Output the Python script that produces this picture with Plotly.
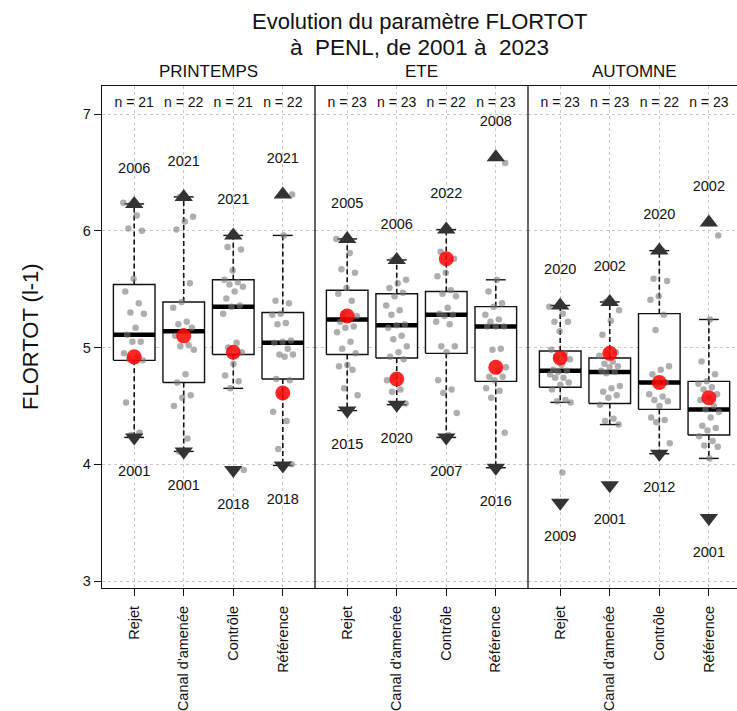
import plotly.graph_objects as go

# ---- categories -------------------------------------------------------------
seasons = ["PRINTEMPS", "ETE", "AUTOMNE"]
stations = ["Rejet", "Canal d'amenée", "Contrôle", "Référence"]
y_ticks = [3, 4, 5, 6, 7]

# ---- counts per season / station ---------------------------------------------
n_printemps = [21, 22, 21, 22]
n_ete = [23, 23, 22, 23]
n_automne = [23, 23, 22, 23]

# ---- box statistics (q1, median, q3, whisker ends, mean) ----------------------
q1_printemps = [4.89, 4.70, 4.94, 4.73]
med_printemps = [5.11, 5.14, 5.35, 5.04]
q3_printemps = [5.54, 5.39, 5.58, 5.30]
lo_printemps = [4.23, 4.11, 4.65, 3.99]
hi_printemps = [6.23, 6.29, 5.96, 5.96]
mean_printemps = [4.92, 5.10, 4.96, 4.61]

q1_ete = [4.94, 4.91, 4.95, 4.71]
med_ete = [5.24, 5.19, 5.28, 5.18]
q3_ete = [5.49, 5.46, 5.48, 5.35]
lo_ete = [4.46, 4.51, 4.23, 3.97]
hi_ete = [5.93, 5.75, 6.01, 5.58]
mean_ete = [5.27, 4.73, 5.76, 4.83]

q1_automne = [4.66, 4.52, 4.47, 4.25]
med_automne = [4.80, 4.79, 4.70, 4.47]
q3_automne = [4.97, 4.91, 5.29, 4.71]
lo_automne = [4.53, 4.34, 4.09, 4.05]
hi_automne = [5.36, 5.39, 5.83, 5.24]
mean_automne = [4.91, 4.95, 4.70, 4.57]

# ---- extremes and their years ------------------------------------------------
max_printemps = [6.23, 6.29, 5.96, 6.31]
min_printemps = [4.23, 4.11, 3.95, 3.99]
year_max_printemps = ["2006", "2021", "2021", "2021"]
year_min_printemps = ["2001", "2001", "2018", "2018"]

max_ete = [5.93, 5.75, 6.01, 6.63]
min_ete = [4.46, 4.51, 4.23, 3.97]
year_max_ete = ["2005", "2006", "2022", "2008"]
year_min_ete = ["2015", "2020", "2007", "2016"]

max_automne = [5.36, 5.39, 5.83, 6.07]
min_automne = [3.67, 3.82, 4.09, 3.54]
year_max_automne = ["2020", "2002", "2020", "2002"]
year_min_automne = ["2009", "2001", "2012", "2001"]

# ---- individual observations ------------------------------------------------
printemps_rejet = [6.24, 6.13, 6.02, 6.00, 5.59, 5.48, 5.38, 5.30, 5.29, 5.17, 5.11,
                   5.05, 5.05, 4.95, 4.92, 4.90, 4.89, 4.88, 4.53, 4.27, 4.25]
printemps_canal = [6.29, 6.12, 6.08, 6.01, 5.55, 5.39, 5.34, 5.22, 5.20, 5.17, 5.14,
                   5.10, 5.02, 5.01, 4.98, 4.77, 4.70, 4.59, 4.57, 4.50, 4.22, 4.11]
printemps_controle = [5.96, 5.86, 5.84, 5.66, 5.58, 5.56, 5.54, 5.52, 5.48, 5.42, 5.36,
                      5.35, 5.29, 5.04, 5.00, 4.96, 4.86, 4.76, 4.71, 4.65, 3.95]
printemps_reference = [6.31, 5.96, 5.40, 5.38, 5.29, 5.28, 5.21, 5.20, 5.06, 5.05, 5.04,
                       4.99, 4.94, 4.94, 4.92, 4.73, 4.72, 4.60, 4.45, 4.37, 4.13, 4.00]

ete_rejet = [5.93, 5.81, 5.67, 5.64, 5.51, 5.46, 5.40, 5.29, 5.27, 5.24, 5.22, 5.18,
             5.17, 5.13, 5.05, 4.99, 4.95, 4.85, 4.84, 4.81, 4.65, 4.59, 4.46]
ete_canal = [5.75, 5.58, 5.55, 5.51, 5.47, 5.44, 5.36, 5.32, 5.28, 5.20, 5.19, 5.17,
             5.10, 5.07, 5.01, 4.96, 4.92, 4.90, 4.75, 4.72, 4.64, 4.62, 4.52]
ete_controle = [6.01, 5.82, 5.76, 5.64, 5.61, 5.49, 5.46, 5.44, 5.34, 5.29, 5.28,
                5.27, 5.22, 5.20, 5.01, 5.01, 4.96, 4.72, 4.64, 4.61, 4.44, 4.25]
ete_reference = [6.58, 5.58, 5.48, 5.38, 5.35, 5.28, 5.24, 5.22, 5.18, 5.18, 5.18, 4.99,
                 4.98, 4.83, 4.80, 4.75, 4.75, 4.72, 4.65, 4.63, 4.57, 4.27, 3.97]

automne_rejet = [5.35, 5.29, 5.22, 5.22, 5.14, 4.98, 4.95, 4.92, 4.90, 4.85, 4.81, 4.80,
                 4.79, 4.77, 4.74, 4.74, 4.70, 4.68, 4.64, 4.55, 4.54, 4.53, 3.93]
automne_canal = [5.39, 5.32, 5.23, 5.11, 4.96, 4.95, 4.93, 4.88, 4.86, 4.84, 4.83, 4.80,
                 4.79, 4.78, 4.67, 4.65, 4.62, 4.59, 4.57, 4.51, 4.39, 4.37, 4.34]
automne_controle = [5.83, 5.59, 5.57, 5.44, 5.41, 5.28, 5.15, 4.84, 4.81, 4.77, 4.70,
                    4.69, 4.60, 4.58, 4.55, 4.54, 4.50, 4.40, 4.38, 4.36, 4.18, 4.09]
automne_reference = [5.96, 5.24, 4.88, 4.77, 4.71, 4.69, 4.66, 4.64, 4.60, 4.57, 4.55,
                     4.50, 4.47, 4.45, 4.40, 4.33, 4.31, 4.29, 4.24, 4.20, 4.16, 4.15, 4.05]

# ---- assemble panels ---------------------------------------------------------
panels = [
    dict(n=n_printemps, q1=q1_printemps, med=med_printemps, q3=q3_printemps,
         lo=lo_printemps, hi=hi_printemps, mean=mean_printemps,
         mx=max_printemps, mn=min_printemps, ymx=year_max_printemps, ymn=year_min_printemps,
         obs=[printemps_rejet, printemps_canal, printemps_controle, printemps_reference]),
    dict(n=n_ete, q1=q1_ete, med=med_ete, q3=q3_ete,
         lo=lo_ete, hi=hi_ete, mean=mean_ete,
         mx=max_ete, mn=min_ete, ymx=year_max_ete, ymn=year_min_ete,
         obs=[ete_rejet, ete_canal, ete_controle, ete_reference]),
    dict(n=n_automne, q1=q1_automne, med=med_automne, q3=q3_automne,
         lo=lo_automne, hi=hi_automne, mean=mean_automne,
         mx=max_automne, mn=min_automne, ymx=year_max_automne, ymn=year_min_automne,
         obs=[automne_rejet, automne_canal, automne_controle, automne_reference]),
]

FONT = "Liberation Sans, Arial, sans-serif"
INK = "#111111"
BOX_HALF = 0.42
CAP_HALF = 0.20
LABEL_OFFSET = 0.30
N_LABEL_Y = 7.086

fig = go.Figure()
xpos = [1, 2, 3, 4]

for k, p in enumerate(panels):
    xa = "x" if k == 0 else f"x{k + 1}"

    # whiskers (dashed) and caps
    wx, wy, cx, cy = [], [], [], []
    for i, x in enumerate(xpos):
        wx += [x, x, None, x, x, None]
        wy += [p["q3"][i], p["hi"][i], None, p["q1"][i], p["lo"][i], None]
        cx += [x - CAP_HALF, x + CAP_HALF, None, x - CAP_HALF, x + CAP_HALF, None]
        cy += [p["hi"][i], p["hi"][i], None, p["lo"][i], p["lo"][i], None]
    fig.add_trace(go.Scatter(x=wx, y=wy, xaxis=xa, yaxis="y", mode="lines",
                             line=dict(color=INK, width=1.6, dash="5px,3px"),
                             hoverinfo="skip", showlegend=False))
    fig.add_trace(go.Scatter(x=cx, y=cy, xaxis=xa, yaxis="y", mode="lines",
                             line=dict(color=INK, width=1.4),
                             hoverinfo="skip", showlegend=False))

    # boxes
    for i, x in enumerate(xpos):
        x0, x1 = x - BOX_HALF, x + BOX_HALF
        fig.add_trace(go.Scatter(
            x=[x0, x1, x1, x0, x0],
            y=[p["q1"][i], p["q1"][i], p["q3"][i], p["q3"][i], p["q1"][i]],
            xaxis=xa, yaxis="y", mode="lines", fill="toself", fillcolor="white",
            line=dict(color=INK, width=1.4), hoverinfo="skip", showlegend=False))

    # medians
    mx_, my_ = [], []
    for i, x in enumerate(xpos):
        mx_ += [x - BOX_HALF, x + BOX_HALF, None]
        my_ += [p["med"][i], p["med"][i], None]
    fig.add_trace(go.Scatter(x=mx_, y=my_, xaxis=xa, yaxis="y", mode="lines",
                             line=dict(color="black", width=4.5),
                             hoverinfo="skip", showlegend=False))

    # jittered observations
    px_, py_ = [], []
    for i, x in enumerate(xpos):
        vals = p["obs"][i]
        for j, v in enumerate(vals):
            px_.append(x + ((j * 0.618034 + 0.31 * i) % 1 - 0.5) * 0.44)
            py_.append(v)
    fig.add_trace(go.Scatter(x=px_, y=py_, xaxis=xa, yaxis="y", mode="markers",
                             marker=dict(color="rgba(120,120,120,0.6)", size=6.5),
                             hoverinfo="skip", showlegend=False))

    # means
    fig.add_trace(go.Scatter(x=xpos, y=p["mean"], xaxis=xa, yaxis="y", mode="markers",
                             marker=dict(color="rgba(255,0,0,0.85)", size=15),
                             hoverinfo="skip", showlegend=False))

    # extremes
    fig.add_trace(go.Scatter(x=xpos, y=p["mx"], xaxis=xa, yaxis="y", mode="markers",
                             marker=dict(symbol="triangle-up", color="#333333", size=16),
                             hoverinfo="skip", showlegend=False))
    fig.add_trace(go.Scatter(x=xpos, y=p["mn"], xaxis=xa, yaxis="y", mode="markers",
                             marker=dict(symbol="triangle-down", color="#333333", size=16),
                             hoverinfo="skip", showlegend=False))

    # year labels of extremes
    fig.add_trace(go.Scatter(x=xpos, y=[v + LABEL_OFFSET for v in p["mx"]],
                             xaxis=xa, yaxis="y", mode="text", text=p["ymx"],
                             textfont=dict(family=FONT, size=14.5, color=INK),
                             hoverinfo="skip", showlegend=False))
    fig.add_trace(go.Scatter(x=xpos, y=[v - LABEL_OFFSET for v in p["mn"]],
                             xaxis=xa, yaxis="y", mode="text", text=p["ymn"],
                             textfont=dict(family=FONT, size=14.5, color=INK),
                             hoverinfo="skip", showlegend=False))

    # sample sizes
    fig.add_trace(go.Scatter(x=xpos, y=[N_LABEL_Y] * 4, xaxis=xa, yaxis="y",
                             mode="text", text=[f"n = {v}" for v in p["n"]],
                             textfont=dict(family=FONT, size=14, color=INK),
                             hoverinfo="skip", showlegend=False))

# ---- axes ------------------------------------------------------------------
W, H = 737, 711
ML, MR, MT, MB = 102, 0, 86, 123
plot_w = W - ML - MR
d1 = 213 / plot_w
d2 = 426 / plot_w
domains = [[0, d1], [d1, d2], [d2, 1]]
ranges = [[0.35, 4.65], [0.35, 4.65], [0.35, 0.35 + 209 / 49.55]]

xaxis_common = dict(
    tickvals=xpos, ticktext=stations, tickangle=-90, ticks="outside", ticklen=7,
    tickcolor=INK, tickwidth=1, showline=True, linecolor=INK, linewidth=1.3,
    mirror=True, showgrid=True, gridcolor="#c8c8c8", griddash="dot", gridwidth=1,
    zeroline=False, tickfont=dict(family=FONT, size=14.5, color=INK), anchor="y",
    ticklabelstandoff=4, automargin=False, fixedrange=True,
)
layout_axes = {}
for k in range(3):
    name = "xaxis" if k == 0 else f"xaxis{k + 1}"
    layout_axes[name] = dict(xaxis_common, domain=domains[k], range=ranges[k])

fig.update_layout(
    **layout_axes,
    yaxis=dict(range=[2.94, 7.24], tickvals=y_ticks, ticks="outside", ticklen=7,
               tickcolor=INK, showline=True, linecolor=INK, linewidth=1.3,
               showgrid=True, gridcolor="#c8c8c8", griddash="dot", zeroline=False,
               tickfont=dict(family=FONT, size=14.5, color=INK), anchor="x",
               automargin=False, fixedrange=True),
    width=W, height=H,
    margin=dict(l=ML, r=MR, t=MT, b=MB, pad=0, autoexpand=False),
    plot_bgcolor="white", paper_bgcolor="white",
    showlegend=False,
)

# panel separators
for d in (d1, d2):
    fig.add_shape(type="line", xref="paper", yref="paper", x0=d, x1=d, y0=0, y1=1,
                  line=dict(color=INK, width=1.3))

# titles
annos = [
    dict(text="Evolution du paramètre FLORTOT", x=0.5, y=1, yshift=65,
         font=dict(family=FONT, size=22, color=INK)),
    dict(text="à  PENL, de 2001 à  2023", x=0.5, y=1, yshift=39,
         font=dict(family=FONT, size=22.5, color=INK)),
]
for k, s in enumerate(seasons):
    annos.append(dict(text=s, x=(domains[k][0] + domains[k][0] + 213 / plot_w) / 2,
                      y=1, yshift=15, font=dict(family=FONT, size=17, color=INK)))
annos.append(dict(text="FLORTOT (l-1)", x=0, xshift=-72, y=0.5, textangle=-90,
                  font=dict(family=FONT, size=22, color=INK)))
for a in annos:
    a.update(xref="paper", yref="paper", showarrow=False,
             xanchor="center", yanchor="middle")
fig.update_layout(annotations=annos)

fig.write_html("out.html")
